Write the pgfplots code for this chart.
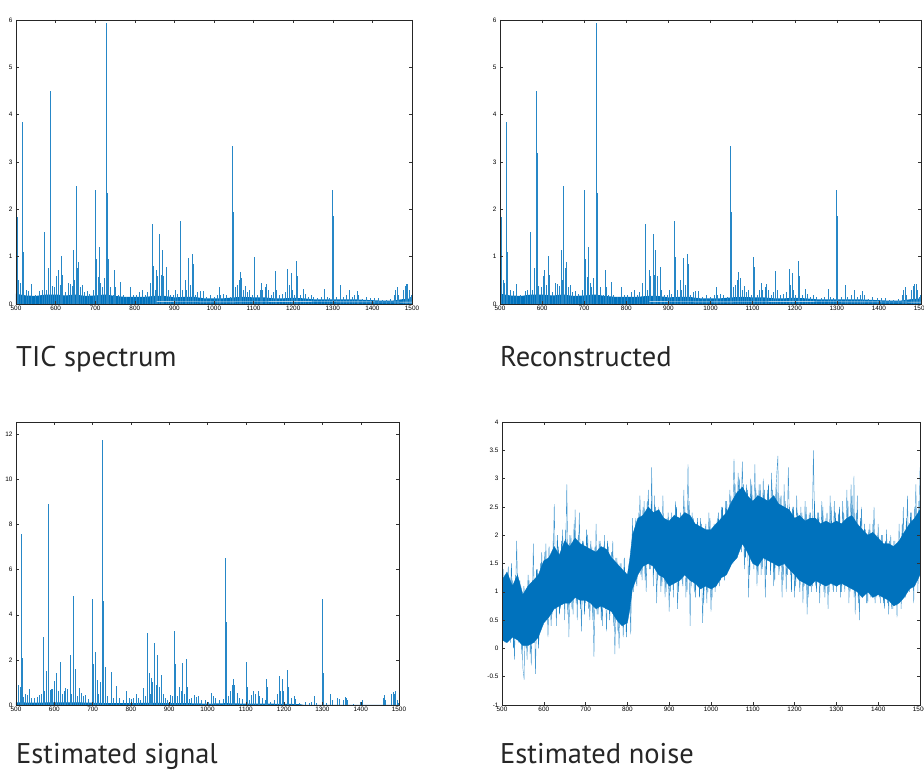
\documentclass[border=0pt]{standalone}
\usepackage{fontspec}
\setmainfont{PT Sans}
\newfontfamily\tickfont{Liberation Sans}
\usepackage{pgfplots}
\pgfplotsset{compat=1.18}
\usepackage{pgfplotstable}
\definecolor{mblue}{rgb}{0,0.447,0.741}

% TIC spectrum peaks (m/z, intensity x1e7)
\pgfplotstableread{
x y
504 1.83
507 0.5
510 0.45
516 3.84
518 1.1
525 0.3
532 0.28
538 0.42
548 0.2
560 0.28
566 0.3
571.5 1.53
577 0.3
582 0.75
586 4.51
587.5 3.2
592 0.38
597 0.35
603 0.6
606 0.72
611 0.4
615 1.02
617 0.62
624 0.25
632 0.45
637 0.42
641 0.38
645 1.15
648 0.5
651.5 2.5
654 0.75
658 0.88
663 0.35
667 0.4
672 0.25
680 0.28
686 0.22
695 0.3
701 2.4
703 0.95
707 0.58
710 1.2
714 0.45
718 0.35
722 0.55
728.5 5.93
730 2.35
732 0.95
738 0.35
745 0.2
749 0.72
752 0.35
758 0.2
764 0.47
770 0.2
778 0.15
788 0.35
795 0.2
803 0.18
812 0.25
818 0.3
826 0.2
832 0.25
838 0.45
844 1.69
846 0.8
851 0.3
855 0.72
858 0.6
863 1.47
866 0.62
870 1.15
873 0.6
880 0.78
884 0.3
890 0.2
897 0.18
903 0.3
908 0.22
914 1.75
916 1.0
921 0.3
928 0.5
931 0.3
936 0.97
941 0.4
945 1.05
947 0.85
953 0.2
958 0.25
965 0.28
972 0.28
980 0.15
990 0.18
1000 0.15
1008 0.2
1013 0.35
1016 0.2
1023 0.22
1030 0.18
1040 0.15
1047 3.33
1048.5 1.95
1055 0.35
1060 0.4
1064 0.5
1067 0.67
1070 0.55
1075 0.3
1080 0.38
1084 0.25
1090 0.3
1096 0.2
1101 1.0
1103 0.78
1110 0.2
1117 0.3
1120 0.45
1123 0.3
1129 0.35
1133 0.42
1138 0.3
1145 0.2
1150 0.25
1155 0.7
1158 0.3
1165 0.2
1172 0.22
1180 0.25
1186 0.74
1189 0.4
1194 0.65
1197 0.3
1202 0.2
1208 0.9
1210 0.6
1217 0.2
1225 0.32
1230 0.22
1238 0.15
1245 0.18
1252 0.15
1262 0.12
1270 0.15
1279 0.32
1285 0.15
1292 0.12
1298 2.4
1300 1.85
1302 0.7
1310 0.15
1320 0.4
1326 0.15
1335 0.2
1342 0.3
1348 0.15
1355 0.2
1361 0.28
1365 0.18
1375 0.1
1385 0.15
1395 0.12
1405 0.12
1415 0.12
1425 0.08
1435 0.08
1445 0.1
1455 0.2
1459 0.3
1462 0.35
1466 0.2
1478 0.3
1482 0.38
1485 0.42
1488 0.43
1492 0.3
1496 0.15
1499 0.2
}\ticpeaks

% TIC baseline level (x1e7)
\pgfplotstableread{
x y
500 0.22
510 0.2
525 0.18
550 0.17
575 0.2
600 0.2
625 0.18
650 0.2
675 0.17
700 0.18
725 0.2
750 0.17
775 0.15
800 0.15
825 0.15
850 0.17
875 0.17
900 0.14
925 0.15
950 0.15
975 0.12
1000 0.12
1025 0.12
1050 0.14
1075 0.15
1100 0.14
1125 0.14
1150 0.12
1175 0.12
1200 0.13
1225 0.12
1250 0.1
1275 0.1
1300 0.1
1325 0.1
1350 0.1
1375 0.09
1400 0.08
1425 0.07
1450 0.07
1475 0.1
1500 0.12
}\ticbase

% Estimated signal peaks (x1e7)
\pgfplotstableread{
x y
502 3.6
515 7.6
516 2.1
570.5 3.0
579 1.5
583.5 8.9
585 6.35
596 0.7
604.5 1.4
616 1.9
641 2.2
650 4.85
656 1.6
665 0.75
698.5 4.7
708 2.35
720 1.0
726.5 11.75
728 4.6
748 1.45
763 0.85
789 0.6
813 0.5
833 0.75
842 3.2
854 1.2
861.5 2.75
869 2.2
879 1.35
902 0.45
913 3.3
927 0.8
934.5 1.85
944 2.05
965 0.45
975 0.4
1011 0.55
1047 6.5
1067 1.15
1078 0.55
1101 1.9
1120 0.62
1132 0.62
1154 1.15
1187 1.3
1195 1.15
1209 1.55
1226 0.4
1279 0.4
1299 4.7
1300 3.6
1321 0.5
1340 0.3
1359 0.35
1403 0.2
1462 0.45
1484 0.58
1490 0.6
507 0.9
510 0.8
520 0.35
525 0.5
530 0.45
535 0.72
540 0.3
548 0.3
555 0.35
560 0.45
565 0.5
575 0.6
590 0.65
593 0.7
600 1.05
610 0.6
620 0.5
625 0.6
630 0.75
635 0.7
645 0.5
660 0.4
670 0.55
675 0.4
680 0.45
690 0.25
703 1.8
712 1.1
716 0.5
733 1.7
738 0.4
755 0.3
770 0.3
780 0.2
795 0.3
800 0.25
805 0.3
820 0.3
825 0.2
838 0.4
847 1.4
851 0.5
857 1.0
866 0.9
874 0.8
884 0.5
890 0.3
896 0.2
908 0.4
916 1.8
920 0.4
931 0.6
940 0.5
947 0.8
952 0.25
958 0.3
970 0.35
985 0.2
995 0.2
1003 0.15
1016 0.4
1021 0.3
1030 0.2
1040 0.25
1049 3.7
1054 0.4
1060 0.6
1064 0.9
1070 0.9
1082 0.3
1090 0.25
1103 0.8
1110 0.2
1115 0.45
1125 0.5
1136 0.4
1142 0.3
1150 0.2
1157 0.8
1165 0.15
1175 0.2
1183 0.5
1190 0.6
1198 0.6
1211 0.8
1220 0.3
1230 0.25
1240 0.1
1255 0.15
1265 0.1
1270 0.12
1285 0.1
1302 1.4
1310 0.1
1325 0.2
1343 0.25
1355 0.2
1362 0.3
1366 0.2
1380 0.05
1400 0.15
1458 0.3
1465 0.2
1480 0.5
1487 0.5
1495 0.2
1499 0.1
}\sigpeaks

% Estimated signal baseline (x1e7)
\pgfplotstableread{
x y
500 0.12
550 0.1
600 0.12
650 0.12
700 0.1
750 0.08
800 0.08
850 0.1
900 0.08
950 0.08
1000 0.06
1050 0.08
1100 0.06
1150 0.06
1200 0.05
1240 0.04
1250 0.01
1500 0.01
}\sigbase

% Estimated noise (x1e6), wide excursions
\pgfplotstableread{
x y
500 0.2
505 1.3
510 0.4
515 1.45
520 0.1
525 1.2
530 -0.2
535 1.9
540 0.1
545 1.1
550 -0.35
553 -0.55
555 0.9
560 -0.2
565 1.2
570 -0.3
575 1.85
580 -0.45
585 1.4
590 0.3
595 1.7
600 0.5
605 1.85
610 0.2
615 1.6
620 0.6
625 2.55
630 0.4
635 1.8
640 0.7
645 2.1
650 0.5
655 2.9
660 0.2
665 2.0
670 0.6
675 2.45
680 0.5
685 2.4
690 0.3
695 1.9
700 0.8
705 2.0
710 0.5
715 1.8
720 -0.15
725 2.2
730 0.6
735 1.9
740 0.4
745 2.0
750 0.3
755 1.8
760 0.7
765 1.9
770 -0.1
775 1.6
780 0.0
785 1.5
790 0.2
795 1.35
800 0.5
805 1.1
808 0.25
812 2.3
815 1.0
820 2.3
825 1.3
830 2.7
835 1.2
840 2.6
845 1.0
850 2.8
855 1.4
858 3.2
862 1.1
865 2.7
870 0.8
875 2.5
880 1.0
885 2.7
890 0.9
895 2.3
900 0.65
905 2.4
910 0.9
915 2.6
920 0.7
925 2.2
930 1.2
935 2.8
940 0.9
945 3.25
950 0.4
955 2.4
960 1.0
965 2.2
970 1.1
975 2.3
980 0.45
985 2.1
990 0.8
995 2.4
1000 0.65
1005 2.1
1010 1.0
1015 2.3
1020 1.1
1025 2.5
1030 1.3
1035 2.6
1040 1.4
1045 2.8
1050 1.6
1055 3.35
1060 1.7
1065 3.1
1070 1.9
1075 3.3
1080 1.4
1085 2.9
1090 0.9
1095 3.0
1100 1.6
1105 3.25
1110 1.1
1115 2.9
1120 1.3
1125 3.0
1130 0.9
1135 2.8
1140 1.6
1145 3.1
1150 1.1
1155 2.8
1160 3.4
1163 1.4
1165 2.7
1170 0.9
1175 2.9
1180 1.0
1185 3.2
1190 1.3
1195 2.5
1200 0.9
1205 2.7
1210 1.2
1215 2.5
1220 0.8
1225 2.6
1230 0.6
1235 2.4
1240 1.0
1245 3.5
1250 1.1
1255 2.4
1260 0.8
1265 2.6
1270 1.0
1275 2.3
1280 0.7
1285 2.7
1290 1.1
1295 2.6
1300 1.0
1305 2.4
1310 0.9
1315 2.6
1320 1.0
1325 2.8
1330 0.8
1335 2.9
1340 1.2
1342 3.05
1345 0.6
1350 2.7
1355 0.5
1360 2.5
1365 1.0
1370 2.1
1375 0.8
1380 2.2
1385 1.0
1390 2.5
1395 0.9
1400 2.2
1405 0.8
1410 2.0
1415 0.7
1420 2.1
1425 0.6
1430 2.0
1435 0.7
1440 1.9
1445 0.55
1450 2.2
1455 0.7
1460 2.5
1465 0.9
1470 2.7
1475 1.0
1480 2.4
1485 0.8
1490 2.9
1495 1.0
1500 3.2
}\noise

% Estimated noise (x1e6), denser middle excursions
\pgfplotstableread{
x y
502.5 1.4
507.5 0.1
512.5 1.2
517.5 0.3
522.5 1.5
527.5 0.0
532.5 1.3
537.5 0.2
542.5 1.2
547.5 -0.1
552.5 1.1
557.5 0.0
562.5 1.3
567.5 -0.1
572.5 1.2
577.5 0.1
582.5 1.4
587.5 0.0
592.5 1.5
597.5 0.4
602.5 1.7
607.5 0.5
612.5 1.8
617.5 0.4
622.5 1.9
627.5 0.7
632.5 2.0
637.5 0.6
642.5 1.9
647.5 0.8
652.5 2.1
657.5 0.6
662.5 2.0
667.5 0.7
672.5 2.2
677.5 0.8
682.5 2.0
687.5 0.7
692.5 1.9
697.5 0.6
702.5 2.1
707.5 0.7
712.5 1.9
717.5 0.5
722.5 1.8
727.5 0.6
732.5 1.9
737.5 0.5
742.5 1.8
747.5 0.7
752.5 1.9
757.5 0.5
762.5 1.7
767.5 0.4
772.5 1.6
777.5 0.3
782.5 1.5
787.5 0.4
792.5 1.6
797.5 0.2
802.5 1.4
807.5 1.0
812.5 1.3
817.5 2.1
822.5 1.1
827.5 2.4
832.5 1.3
837.5 2.5
842.5 1.2
847.5 2.6
852.5 1.4
857.5 2.6
862.5 1.3
867.5 2.5
872.5 1.2
877.5 2.4
882.5 1.1
887.5 2.3
892.5 1.0
897.5 2.4
902.5 1.0
907.5 2.3
912.5 1.2
917.5 2.5
922.5 1.0
927.5 2.4
932.5 1.1
937.5 2.5
942.5 1.0
947.5 2.6
952.5 1.1
957.5 2.3
962.5 0.9
967.5 2.3
972.5 0.9
977.5 2.2
982.5 0.8
987.5 2.2
992.5 1.0
997.5 2.3
1002.5 0.9
1007.5 2.2
1012.5 1.1
1017.5 2.4
1022.5 1.2
1027.5 2.5
1032.5 1.2
1037.5 2.6
1042.5 1.4
1047.5 2.7
1052.5 1.5
1057.5 2.9
1062.5 1.6
1067.5 3.0
1072.5 1.7
1077.5 2.9
1082.5 1.6
1087.5 2.8
1092.5 1.3
1097.5 2.9
1102.5 1.4
1107.5 2.8
1112.5 1.3
1117.5 2.9
1122.5 1.4
1127.5 2.8
1132.5 1.3
1137.5 2.9
1142.5 1.3
1147.5 2.8
1152.5 1.2
1157.5 2.9
1162.5 1.3
1167.5 2.7
1172.5 1.2
1177.5 2.6
1182.5 1.3
1187.5 2.5
1192.5 1.0
1197.5 2.5
1202.5 1.1
1207.5 2.4
1212.5 1.0
1217.5 2.4
1222.5 1.1
1227.5 2.5
1232.5 0.9
1237.5 2.4
1242.5 1.1
1247.5 2.6
1252.5 1.0
1257.5 2.4
1262.5 1.1
1267.5 2.5
1272.5 0.9
1277.5 2.4
1282.5 1.0
1287.5 2.5
1292.5 1.0
1297.5 2.4
1302.5 1.1
1307.5 2.5
1312.5 1.0
1317.5 2.4
1322.5 1.1
1327.5 2.6
1332.5 1.0
1337.5 2.7
1342.5 0.9
1347.5 2.4
1352.5 0.8
1357.5 2.3
1362.5 0.9
1367.5 2.2
1372.5 0.8
1377.5 2.1
1382.5 0.9
1387.5 2.2
1392.5 0.8
1397.5 2.0
1402.5 0.9
1407.5 2.0
1412.5 0.8
1417.5 1.9
1422.5 0.8
1427.5 1.9
1432.5 0.7
1437.5 1.9
1442.5 0.8
1447.5 1.9
1452.5 0.9
1457.5 2.2
1462.5 1.0
1467.5 2.3
1472.5 1.1
1477.5 2.4
1482.5 1.1
1487.5 2.5
1492.5 1.2
1497.5 2.6
}\noisemid

% Dense core of the noise band (upper edge forward, lower edge back)
\pgfplotstableread{
x y
500 1.2
512 1.35
525 1.1
537 1.3
550 0.95
562 1.1
575 1.2
587 1.3
600 1.55
612 1.6
625 1.8
637 1.65
650 1.9
662 1.8
675 1.95
687 1.85
700 1.8
712 1.75
725 1.7
737 1.8
750 1.75
762 1.6
775 1.5
787 1.4
800 1.3
806 1.6
812 2.0
825 2.3
837 2.35
850 2.5
862 2.4
875 2.45
887 2.3
900 2.25
912 2.35
925 2.3
937 2.4
950 2.35
962 2.2
975 2.15
987 2.1
1000 2.1
1012 2.2
1025 2.3
1037 2.4
1050 2.6
1062 2.75
1075 2.85
1087 2.7
1100 2.6
1112 2.7
1125 2.65
1137 2.6
1150 2.7
1162 2.55
1175 2.5
1187 2.45
1200 2.3
1212 2.35
1225 2.25
1237 2.3
1250 2.3
1262 2.2
1275 2.25
1287 2.2
1300 2.25
1312 2.2
1325 2.3
1337 2.35
1350 2.2
1362 2.1
1375 2.0
1387 2.05
1400 1.95
1412 1.85
1425 1.85
1437 1.8
1450 1.9
1462 2.05
1475 2.2
1487 2.3
1500 2.45
1500 1.3
1487 1.1
1475 1.05
1462 0.9
1450 0.8
1437 0.75
1425 0.85
1412 0.9
1400 0.95
1387 0.9
1375 1.0
1362 0.9
1350 1.0
1337 1.05
1325 1.1
1312 1.15
1300 1.1
1287 1.15
1275 1.1
1262 1.15
1250 1.2
1237 1.1
1225 1.15
1212 1.2
1200 1.3
1187 1.4
1175 1.5
1162 1.45
1150 1.5
1137 1.55
1125 1.6
1112 1.45
1100 1.5
1087 1.7
1075 1.85
1062 1.6
1050 1.5
1037 1.3
1025 1.25
1012 1.1
1000 1.05
987 1.1
975 1.05
962 1.15
950 1.2
937 1.3
925 1.2
912 1.15
900 1.1
887 1.25
875 1.3
862 1.45
850 1.5
837 1.45
825 1.3
812 1.05
806 0.7
800 0.45
787 0.4
775 0.5
762 0.65
750 0.7
737 0.75
725 0.7
712 0.8
700 0.85
687 0.85
675 0.9
662 0.8
650 0.8
637 0.75
625 0.7
612 0.55
600 0.45
587 0.2
575 0.1
562 0.05
550 0.05
537 0.15
525 0.2
512 0.1
500 0.15
}\noiseband

\pgfplotsset{
  matstyle/.style={
    scale only axis,
    axis line style={draw=black!85, line width=0.6pt},
    tick align=inside,
    major tick length=3pt,
    tick style={black!80, line width=0.4pt},
    xmin=500, xmax=1500,
    xtick={500,600,...,1500},
    tick label style={font=\tickfont\fontsize{6.4}{7}\selectfont},
    /pgf/number format/assume math mode=true,
    /pgf/number format/1000 sep={},
    xticklabel style={yshift=1pt},
    axis on top,
  },
}
\tikzset{mult/.style={font=\tickfont\fontsize{6}{7}\selectfont, anchor=south west, inner sep=1pt}}

\begin{document}
\begin{tikzpicture}

% TIC spectrum
\begin{axis}[matstyle, at={(16pt,467pt)}, anchor=south west, width=396pt, height=284pt,
  ymin=0, ymax=6, ytick={0,1,...,6}]
  \addplot[fill=mblue, draw=none] table {\ticbase} \closedcycle;
  \addplot[ycomb, mblue!85, line width=0.6pt, no marks] table {\ticpeaks};
  \addplot[white, line width=0.4pt, no marks] coordinates {(855,0.05) (1000,0.045) (1200,0.05) (1500,0.04)};
  \node[mult] at (rel axis cs:0,1) {×10\textsuperscript{7}};
\end{axis}

% Reconstructed
\begin{axis}[matstyle, at={(500pt,467pt)}, anchor=south west, width=421pt, height=284pt,
  ymin=0, ymax=6, ytick={0,1,...,6}]
  \addplot[fill=mblue, draw=none] table {\ticbase} \closedcycle;
  \addplot[ycomb, mblue!85, line width=0.6pt, no marks] table {\ticpeaks};
  \addplot[white, line width=0.4pt, no marks] coordinates {(855,0.05) (1000,0.045) (1200,0.05) (1500,0.04)};
  \node[mult] at (rel axis cs:0,1) {×10\textsuperscript{7}};
\end{axis}

% Estimated signal
\begin{axis}[matstyle, at={(16pt,66pt)}, anchor=south west, width=383pt, height=283pt,
  ymin=0, ymax=12.55, ytick={0,2,...,12}]
  \addplot[fill=mblue, draw=none] table {\sigbase} \closedcycle;
  \addplot[ycomb, mblue!85, line width=0.6pt, no marks] table {\sigpeaks};
  \node[mult] at (rel axis cs:0,1) {×10\textsuperscript{7}};
\end{axis}

% Estimated noise
\begin{axis}[matstyle, at={(502pt,66pt)}, anchor=south west, width=418pt, height=283pt,
  ymin=-1, ymax=4, ytick={-1,-0.5,...,4}]
  \addplot[mblue!75, line width=0.4pt, no marks] table {\noise};
  \addplot[mblue!90, line width=0.45pt, no marks] table {\noisemid};
  \addplot[fill=mblue, draw=mblue, line width=0.3pt] table {\noiseband} -- cycle;
  \node[mult] at (rel axis cs:0,1) {×10\textsuperscript{6}};
\end{axis}

\node[anchor=base west, inner sep=0, font=\fontsize{28.5}{30}\selectfont, text=black!85] at (16pt,404pt) {TIC spectrum};
\node[anchor=base west, inner sep=0, font=\fontsize{28.5}{30}\selectfont, text=black!85] at (500pt,404pt) {Reconstructed};
\node[anchor=base west, inner sep=0, font=\fontsize{28.5}{30}\selectfont, text=black!85] at (16pt,7pt) {Estimated signal};
\node[anchor=base west, inner sep=0, font=\fontsize{28.5}{30}\selectfont, text=black!85] at (500pt,7pt) {Estimated noise};

\pgfresetboundingbox
\path[use as bounding box] (0pt,0pt) rectangle (924pt,771pt);
\end{tikzpicture}
\end{document}
